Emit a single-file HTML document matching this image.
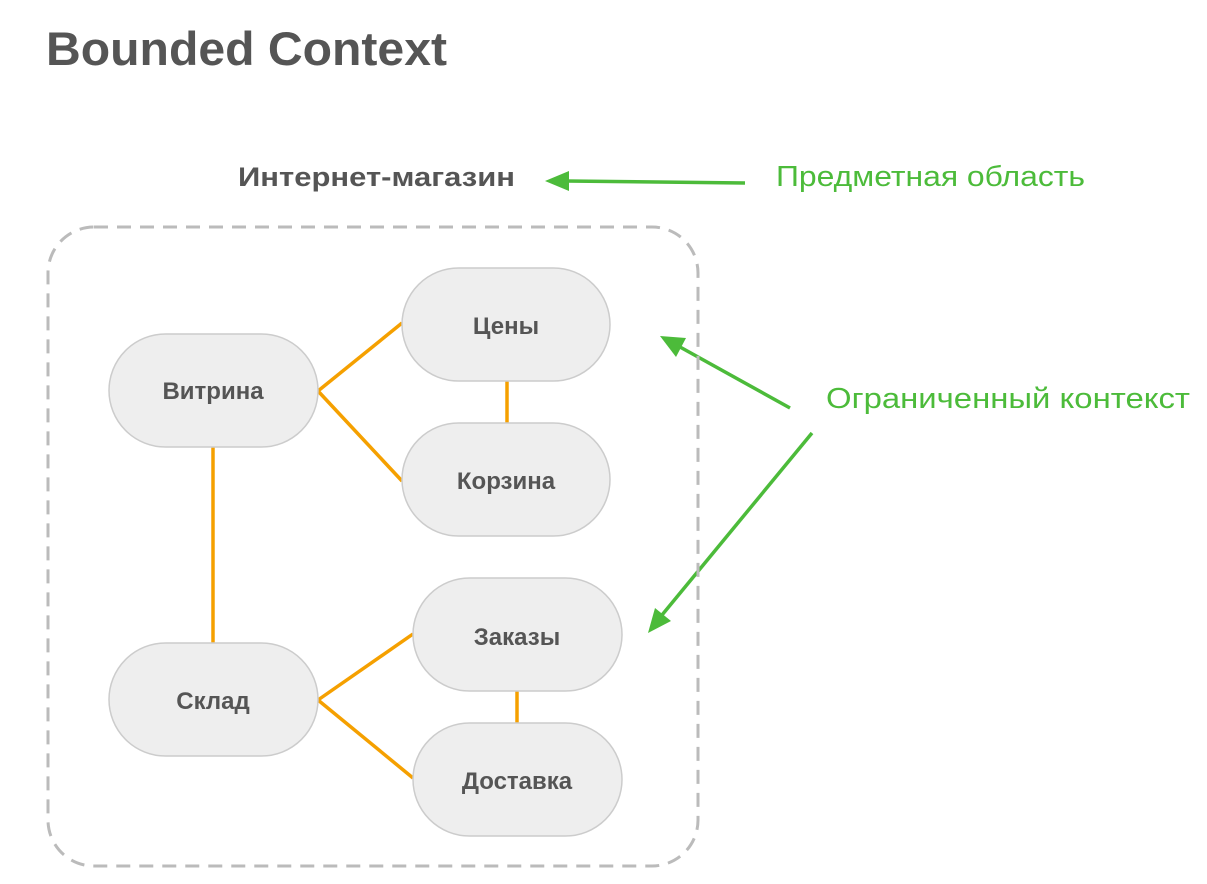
<!DOCTYPE html>
<html><head><meta charset="utf-8"><style>
html,body{margin:0;padding:0;background:#fff;width:1207px;height:884px;overflow:hidden}
svg text{font-family:"Liberation Sans",sans-serif}
</style></head><body>
<svg width="1207" height="884" viewBox="0 0 1207 884" xmlns="http://www.w3.org/2000/svg">
<text x="46" y="65" font-size="47" font-weight="bold" fill="#555" textLength="401" lengthAdjust="spacingAndGlyphs">Bounded Context</text>
<text x="238" y="186" font-size="27" font-weight="bold" fill="#555" textLength="277" lengthAdjust="spacingAndGlyphs">Интернет-магазин</text>
<text x="776" y="186" font-size="29" fill="#4cbb3a" textLength="309" lengthAdjust="spacingAndGlyphs">Предметная область</text>
<text x="826" y="408" font-size="29" fill="#4cbb3a" textLength="364" lengthAdjust="spacingAndGlyphs">Ограниченный контекст</text>
<g stroke="#4cbb3a" stroke-width="3.5" fill="none">
<line x1="745" y1="183" x2="566" y2="181"/>
<line x1="790" y1="408" x2="680" y2="347"/>
<line x1="812" y1="433" x2="662" y2="615"/>
</g>
<g fill="#4cbb3a">
<polygon points="545,181 569,171 569,191"/>
<polygon points="660,336 686,338 676,357"/>
<polygon points="648,633 655,608 671,621"/>
</g>
<rect x="48" y="227" width="650" height="639" rx="46" fill="none" stroke="#bbb" stroke-width="3" stroke-dasharray="14,9"/>
<g stroke="#f5a000" stroke-width="3.5">
<line x1="318" y1="391" x2="402" y2="323"/>
<line x1="318" y1="391" x2="402" y2="481"/>
<line x1="507" y1="381" x2="507" y2="423"/>
<line x1="213" y1="447" x2="213" y2="643"/>
<line x1="318" y1="700" x2="413" y2="634"/>
<line x1="318" y1="700" x2="413" y2="778"/>
<line x1="517" y1="691" x2="517" y2="723"/>
</g>
<g fill="#eee" stroke="#ccc" stroke-width="1.5">
<rect x="109" y="334" width="209" height="113" rx="56.5"/>
<rect x="402" y="268" width="208" height="113" rx="56.5"/>
<rect x="402" y="423" width="208" height="113" rx="56.5"/>
<rect x="413" y="578" width="209" height="113" rx="56.5"/>
<rect x="109" y="643" width="209" height="113" rx="56.5"/>
<rect x="413" y="723" width="209" height="113" rx="56.5"/>
</g>
<g font-size="24" font-weight="bold" fill="#555" text-anchor="middle">
<text x="213" y="399">Витрина</text>
<text x="506" y="334">Цены</text>
<text x="506" y="489">Корзина</text>
<text x="517" y="645">Заказы</text>
<text x="213" y="709">Склад</text>
<text x="517" y="789">Доставка</text>
</g>
</svg>
</body></html>
